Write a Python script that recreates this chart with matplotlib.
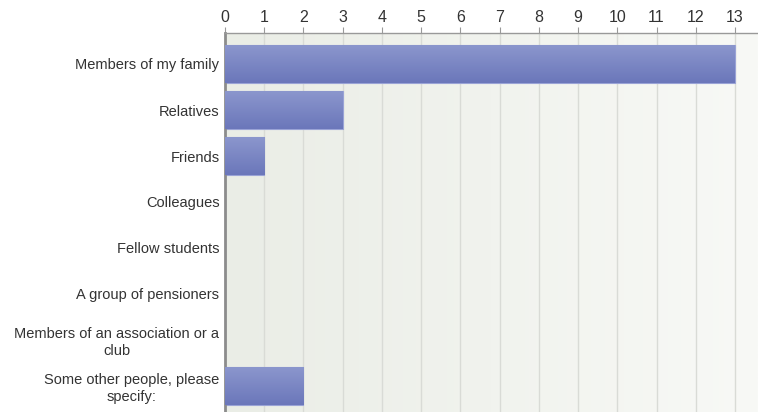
import matplotlib.pyplot as plt
import numpy as np
from matplotlib.colors import LinearSegmentedColormap

plt.rcParams['font.family'] = ['Liberation Sans', 'DejaVu Sans']

categories = ['Members of my family', 'Relatives', 'Friends', 'Colleagues',
              'Fellow students', 'A group of pensioners',
              'Members of an association or a\nclub',
              'Some other people, please\nspecify:']
counts = [13, 3, 1, 0, 0, 0, 0, 2]
xticks = list(range(0, 14))

fig = plt.figure(figsize=(7.58, 4.12), dpi=100)
ax = fig.add_axes([225 / 758, 0, 1 - 225 / 758, 1 - 33 / 412])

xmax = (758 - 225) / 39.23
ymin, ymax = -31 / 46, 7 + 26 / 46

# background gradient
bg = LinearSegmentedColormap.from_list('bg', ['#eaede6', '#f8f9f6'])
ax.imshow(np.linspace(0, 1, 256).reshape(1, -1), cmap=bg, aspect='auto',
          extent=[0, xmax, ymax, ymin], zorder=0)

for t in xticks:
    ax.axvline(t, color='#d9dbd6', lw=1, zorder=1)

# bars with vertical gradient
bar_cmap = LinearSegmentedColormap.from_list('bar', ['#8b96cd', '#6b77ba'])
bars = ax.barh(range(len(categories)), counts, height=0.82,
               color='#7b86c4', edgecolor='#9aa3d6', lw=0.8, zorder=2)
for b in bars:
    if b.get_width() == 0:
        continue
    x0, y0 = b.get_x(), b.get_y()
    w, h = b.get_width(), b.get_height()
    im = ax.imshow(np.linspace(0, 1, 64).reshape(-1, 1), cmap=bar_cmap,
                   aspect='auto', extent=[x0, x0 + w, y0 + h, y0], zorder=3)
    im.set_clip_path(b)

ax.set_xlim(0, xmax)
ax.set_ylim(ymax, ymin)

ax.xaxis.tick_top()
ax.set_xticks(xticks)
ax.set_xticklabels([str(t) for t in xticks], fontsize=11.5, color='#333333')
ax.tick_params(axis='x', length=4, color='#999999', pad=1.5)
ax.set_yticks(range(len(categories)))
ax.set_yticklabels(categories, fontsize=10.5, color='#333333', ha='right',
                   multialignment='center', linespacing=1.25)
ax.tick_params(axis='y', length=0, pad=4)

for s in ['right', 'bottom']:
    ax.spines[s].set_visible(False)
ax.spines['left'].set_color('#8c8c8c')
ax.spines['left'].set_linewidth(2)
ax.spines['top'].set_color('#999999')
ax.spines['top'].set_linewidth(1)

fig.savefig('out.png', dpi=100)
